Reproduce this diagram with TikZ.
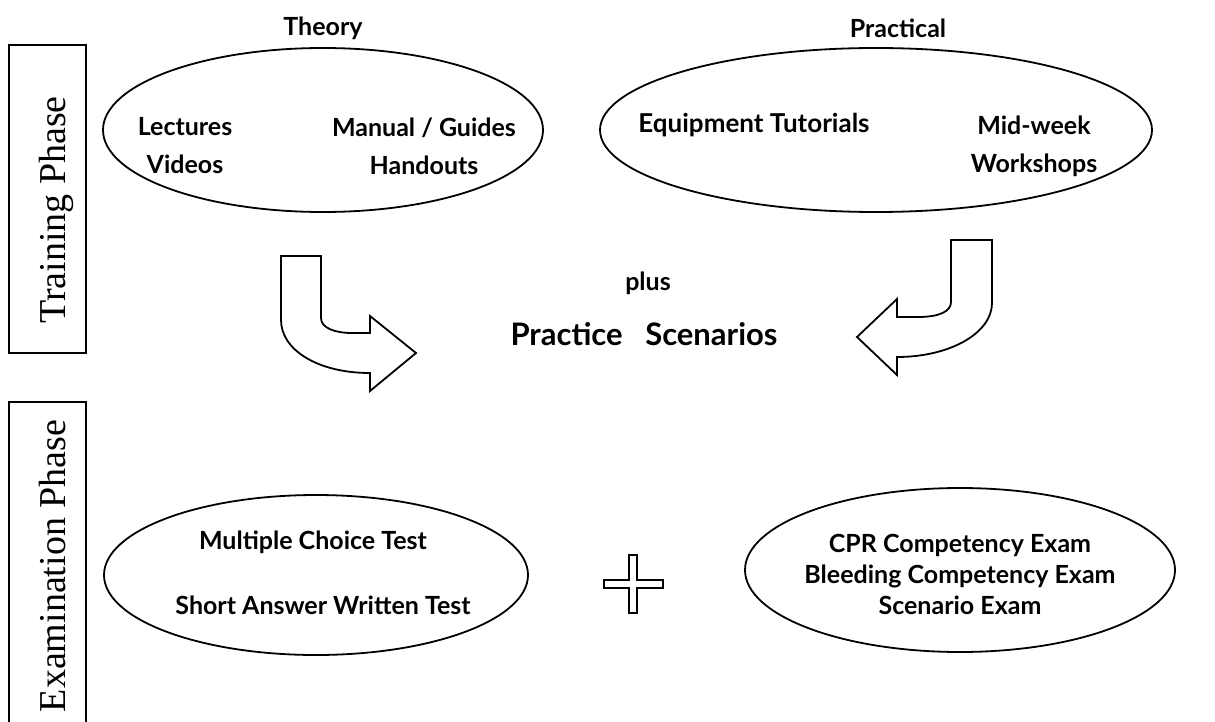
\documentclass[tikz,border=0pt]{standalone}
\usepackage{fontspec}
\setmainfont{Liberation Serif}
\newfontfamily\lato{Lato}
\begin{document}
\begin{tikzpicture}[x=0.5pt,y=-0.5pt,line width=0.9pt,line join=miter,
  phase/.style={rotate=90,anchor=base,font=\fontsize{19}{23}\selectfont},
  txt/.style={align=center,font=\lato\bfseries\fontsize{12.5}{19}\selectfont},
  txtx/.style={align=center,font=\lato\bfseries\fontsize{12.5}{15.5}\selectfont}]
 \useasboundingbox (0,0) rectangle (1215,722);
 % phase boxes
 \draw (9,45) rectangle (86,353);
 \draw (9,730) |- (86,402) -- (86,730);
 \node[phase] (train) at (65,210) {Training Phase};
 \node[phase] (exam) at (65,566) {Examination Phase};
 % training
 \draw (323,130) circle (220 and 82);
 \node[txt] (theory) at (323,28) {Theory};
 \node[txt] (lect) at (185,146) {Lectures\\Videos};
 \node[txt] (manual) at (424,146) {Manual / Guides\\Handouts};
 \draw (876,130) circle (276 and 82);
 \node[txt] (pract) at (898,28) {Practical};
 \node[txt,font=\lato\bfseries\fontsize{13}{19}\selectfont] (equip) at (754,125) {Equipment Tutorials};
 \node[txt] (midweek) at (1034,146) {Mid-week\\Workshops};
 % bent arrows
 \draw (281,256) -- (321,256) -- (321,318) .. controls (321,328) and (335,333) .. (352,333) -- (370,333) -- (370,316) -- (416,353) -- (370,391) -- (370,373) .. controls (318,373) and (281,350) .. (281,320) -- cycle;
 \draw (951,240) -- (992,240) -- (992,303) .. controls (992,333) and (950,357) .. (897,357) -- (897,375) -- (857,337) -- (897,299) -- (897,317) -- (918,317) .. controls (938,317) and (951,312) .. (951,302) -- cycle;
 \node[txt] (plus) at (648,283) {plus};
 \node[txt,font=\lato\bfseries\fontsize{15.5}{19}\selectfont] (scen) at (644,334) {Practice\ \ \ Scenarios};
 % examination
 \draw (316,575) circle (212 and 80);
 \node[txt] (mcq) at (313,542) {Multiple Choice Test};
 \node[txt] (saq) at (323,605) {Short Answer Written Test};
 \draw (629,555) -- (637,555) -- (637,580) -- (663,580) -- (663,588) -- (637,588) -- (637,613) -- (629,613) -- (629,588) -- (604,588) -- (604,580) -- (629,580) -- cycle;
 \draw (960,570) circle (215 and 82);
 \node[txtx] (skills) at (960,574) {CPR Competency Exam\\Bleeding Competency Exam\\Scenario Exam};
\end{tikzpicture}
\end{document}
